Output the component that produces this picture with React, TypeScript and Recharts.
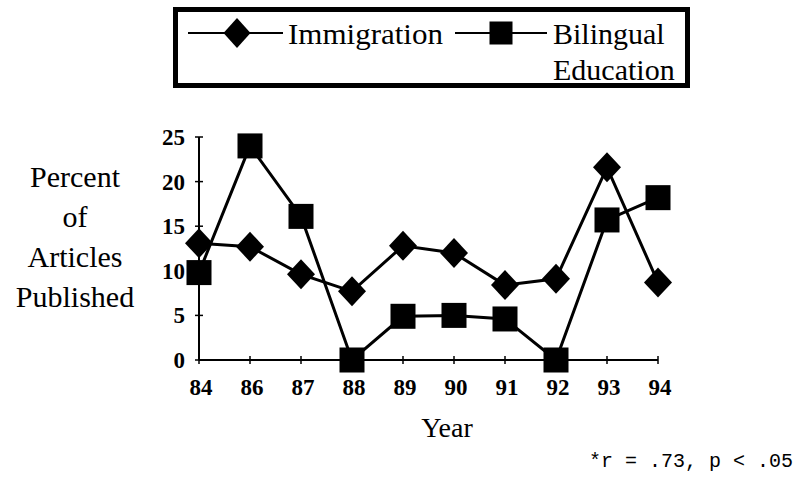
import React from "react";
import { LineChart, Line, XAxis, YAxis } from "recharts";

const years = ["84", "86", "87", "88", "89", "90", "91", "92", "93", "94"];
const immigration = [13.1, 12.7, 9.6, 7.7, 12.8, 12.0, 8.4, 9.1, 21.6, 8.7];
const bilingual = [9.8, 24.0, 16.1, 0, 4.9, 5.0, 4.6, 0, 15.7, 18.2];
const yTicks = [0, 5, 10, 15, 20, 25];
const seriesNames = ["Immigration", "Bilingual"];
const yLabelLines = ["Percent", "of", "Articles", "Published"];

const data = years.map((y, i) => ({ year: y, immigration: immigration[i], bilingual: bilingual[i] }));

const SERIF = "'Liberation Serif', 'Times New Roman', serif";
const TICKFONT = "'Liberation Serif', 'Times New Roman', serif";
const MONO = "'Liberation Mono', 'Courier New', monospace";

const Diamond = (props: any) => {
  const { cx, cy } = props;
  if (cx == null || cy == null) return null;
  return <polygon points={`${cx},${cy - 15} ${cx + 14},${cy} ${cx},${cy + 15} ${cx - 14},${cy}`} fill="#000" />;
};

const Square = (props: any) => {
  const { cx, cy } = props;
  if (cx == null || cy == null) return null;
  return <rect x={cx - 12.5} y={cy - 12.5} width={25} height={25} fill="#000" />;
};

const YTick = (props: any) => {
  const { x, y, payload } = props;
  const m = 14;
  return (
    <g>
      <line x1={x + m - 4} x2={x + m + 4} y1={y} y2={y} stroke="#000" strokeWidth={1.5} />
      <text x={x} y={y} dy={8} textAnchor="end" fontFamily={TICKFONT} fontWeight="bold" fontSize={23} fill="#000">
        {payload.value}
      </text>
    </g>
  );
};

const XTick = (props: any) => {
  const { x, y, payload } = props;
  const m = 19;
  return (
    <g>
      <line x1={x} x2={x} y1={y - m - 4} y2={y - m + 4} stroke="#000" strokeWidth={1.5} />
      <text x={x + 2} y={y} dy={16} textAnchor="middle" fontFamily={TICKFONT} fontWeight="bold" fontSize={23} fill="#000">
        {payload.value}
      </text>
    </g>
  );
};

export default function App() {
  return (
    <div style={{ position: "absolute", left: 0, top: 0, width: 800, height: 480, background: "#fff" }}>
      <LineChart width={800} height={480} data={data} margin={{ top: 137, right: 142, bottom: 80, left: 139 }}>
        <XAxis
          dataKey="year"
          type="category"
          scale="point"
          padding={{ left: 0, right: 0 }}
          interval={0}
          height={40}
          tickSize={0}
          tickMargin={19}
          tickLine={false}
          axisLine={{ stroke: "#000", strokeWidth: 2 }}
          tick={<XTick />}
        />
        <YAxis
          type="number"
          domain={[0, 25]}
          ticks={yTicks}
          width={60}
          tickSize={0}
          tickMargin={14}
          tickLine={false}
          axisLine={{ stroke: "#000", strokeWidth: 2 }}
          tick={<YTick />}
          interval={0}
        />
        <Line
          dataKey="immigration"
          name={seriesNames[0]}
          stroke="#000"
          strokeWidth={3}
          dot={<Diamond />}
          activeDot={false}
          isAnimationActive={false}
        />
        <Line
          dataKey="bilingual"
          name={seriesNames[1]}
          stroke="#000"
          strokeWidth={3}
          dot={<Square />}
          activeDot={false}
          isAnimationActive={false}
        />
      </LineChart>
      <svg width={800} height={480} style={{ position: "absolute", left: 0, top: 0, pointerEvents: "none" }}>
        {/* legend */}
        <rect x={175.5} y={9.5} width={512} height={76} fill="none" stroke="#000" strokeWidth={5} />
        <line x1={188} x2={283} y1={33} y2={33} stroke="#000" strokeWidth={2} />
        <polygon points="237,18 250.5,33 237,48 223.5,33" fill="#000" />
        <text x={288} y={44} fontFamily={SERIF} fontSize={30} fill="#000" textLength={155} lengthAdjust="spacingAndGlyphs">{seriesNames[0]}</text>
        <line x1={455} x2={547} y1={33} y2={33} stroke="#000" strokeWidth={2} />
        <rect x={489.5} y={21.5} width={23} height={23} fill="#000" />
        <text x={553} y={44} fontFamily={SERIF} fontSize={30} fill="#000">Bilingual</text>
        <text x={553} y={80} fontFamily={SERIF} fontSize={30} fill="#000">Education</text>
        {/* y label */}
        {yLabelLines.map((t, i) => (
          <text key={t} x={75} y={187 + i * 40} textAnchor="middle" fontFamily={SERIF} fontSize={30} fill="#000">
            {t}
          </text>
        ))}
        <text x={447} y={437} textAnchor="middle" fontFamily={SERIF} fontSize={28} fill="#000">Year</text>
        <text x={793} y={467} textAnchor="end" fontFamily={MONO} fontSize={20} fill="#000">*r = .73, p &lt; .05</text>
      </svg>
    </div>
  );
}
